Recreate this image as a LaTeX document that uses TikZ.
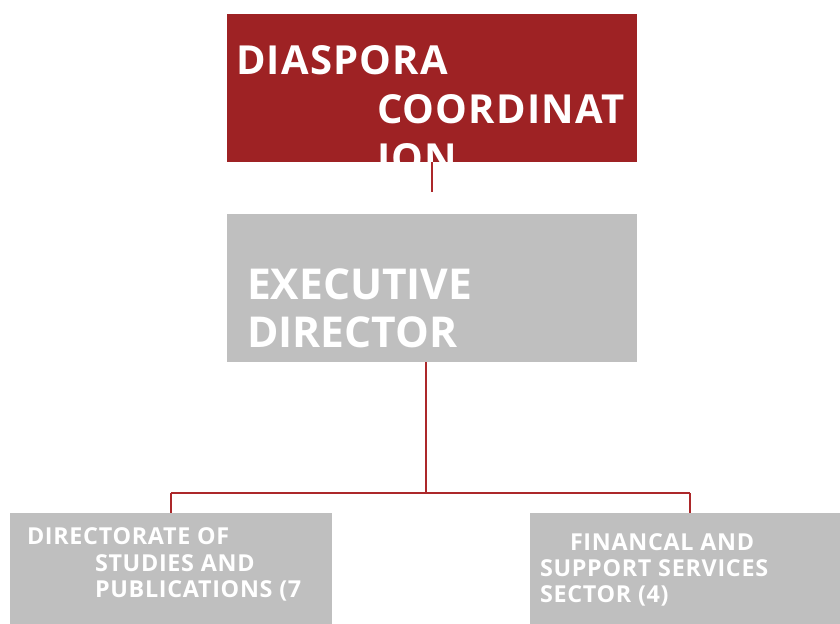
\documentclass[tikz,border=0pt]{standalone}
\usepackage{fontspec}
\setmainfont{Open Sans}
\usetikzlibrary{calc}
\definecolor{boardred}{RGB}{158,34,36}
\definecolor{boardgrey}{RGB}{191,191,191}
\definecolor{linkred}{RGB}{172,40,42}
\begin{document}
\begin{tikzpicture}[x=0.75pt,y=-0.75pt,
    box/.style={rectangle,inner sep=0pt,draw=none},
    redbox/.style={box,fill=boardred,minimum width=307.5pt,minimum height=111pt},
    greybox/.style={box,fill=boardgrey,minimum width=307.5pt,minimum height=111pt},
    unitbox/.style={box,fill=boardgrey,minimum height=83.25pt},
    label/.style={anchor=base west,inner sep=0pt,text=white},
    toplabel/.style={label,font=\bfseries\addfontfeature{LetterSpace=3}\fontsize{30}{36}\selectfont},
    execlabel/.style={label,font=\bfseries\fontsize{31.9}{38}\selectfont},
    unitlabel/.style={label,font=\bfseries\addfontfeature{LetterSpace=3}\fontsize{17.5}{21}\selectfont},
    link/.style={draw=linkred,line width=0.8pt}]
  \useasboundingbox (0,0) rectangle (840,624);
  % boxes
  \node[redbox] (diaspora) at (432,88) {};
  \node[greybox] (exec) at (432,288) {};
  \node[unitbox,minimum width=241.5pt] (studies) at (171,568.5) {};
  \node[unitbox,minimum width=232.5pt] (finance) at (685,568.5) {};
  % texts
  \node[toplabel] at ($(diaspora.north west)+(9,61)$) {DIASPORA};
  \node[toplabel] at ($(diaspora.north west)+(150,110)$) {COORDINAT};
  \node[toplabel] at ($(diaspora.north west)+(150,159)$) {ION};
  \node[execlabel] at ($(exec.north west)+(20,86)$) {EXECUTIVE};
  \node[execlabel] at ($(exec.north west)+(20,134)$) {DIRECTOR};
  \node[unitlabel] at ($(studies.north west)+(17,32)$) {DIRECTORATE OF};
  \node[unitlabel] at ($(studies.north west)+(85,59)$) {STUDIES AND};
  \node[unitlabel] at ($(studies.north west)+(85,85)$) {PUBLICATIONS (7};
  \node[unitlabel] at ($(finance.north west)+(40,38)$) {FINANCAL AND};
  \node[unitlabel] at ($(finance.north west)+(10,64)$) {SUPPORT SERVICES};
  \node[unitlabel] at ($(finance.north west)+(10,90)$) {SECTOR (4)};
  % connectors
  \coordinate (stub) at (432,192);
  \coordinate (split) at (426,493);
  \coordinate (rjoin) at (690,493);
  \draw[link] (diaspora.south) -- (stub);
  \draw[link] (exec.south -| split) -- (split);
  \draw[link] (split -| studies.north) -- (studies.north);
  \draw[link] (rjoin) -- (rjoin |- finance.north);
  \draw[link,line width=2.2pt] (split -| studies.north) -- (rjoin);
\end{tikzpicture}
\end{document}
